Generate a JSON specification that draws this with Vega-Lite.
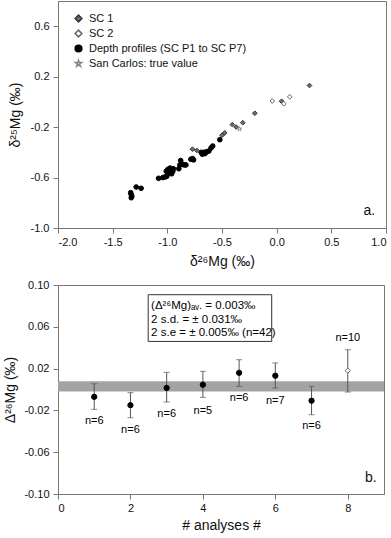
{
  "$schema": "https://vega.github.io/schema/vega-lite/v6.json",
  "padding": {"left": 3, "top": 0, "right": 6, "bottom": 2},
  "spacing": 9,
  "resolve": {
    "scale": {"shape": "independent", "fill": "independent", "stroke": "independent"},
    "legend": {"shape": "independent", "fill": "independent", "stroke": "independent"}
  },
  "config": {
    "font": "Liberation Sans",
    "view": {"stroke": "#777", "strokeWidth": 1},
    "axis": {"grid": false, "labelOverlap": false, "domainColor": "#777", "tickColor": "#777", "tickSize": 5, "labelFont": "Liberation Sans", "labelFontSize": 11, "labelColor": "#111", "titleFont": "Liberation Sans", "titleFontSize": 14, "titleFontWeight": "normal", "titleColor": "#111"}
  },
  "vconcat": [
    {
      "width": 328,
      "height": 227,
      "data": {"values": [
        {"x": -1.335, "y": -0.72, "series": "Depth profiles (SC P1 to SC P7)"},
        {"x": -1.33, "y": -0.735, "series": "Depth profiles (SC P1 to SC P7)"},
        {"x": -1.325, "y": -0.75, "series": "Depth profiles (SC P1 to SC P7)"},
        {"x": -1.33, "y": -0.76, "series": "Depth profiles (SC P1 to SC P7)"},
        {"x": -1.285, "y": -0.675, "series": "Depth profiles (SC P1 to SC P7)"},
        {"x": -1.24, "y": -0.685, "series": "Depth profiles (SC P1 to SC P7)"},
        {"x": -1.08, "y": -0.606, "series": "Depth profiles (SC P1 to SC P7)"},
        {"x": -1.04, "y": -0.60, "series": "Depth profiles (SC P1 to SC P7)"},
        {"x": -1.02, "y": -0.595, "series": "Depth profiles (SC P1 to SC P7)"},
        {"x": -1.005, "y": -0.59, "series": "Depth profiles (SC P1 to SC P7)"},
        {"x": -1.01, "y": -0.55, "series": "Depth profiles (SC P1 to SC P7)"},
        {"x": -0.995, "y": -0.535, "series": "Depth profiles (SC P1 to SC P7)"},
        {"x": -0.985, "y": -0.56, "series": "Depth profiles (SC P1 to SC P7)"},
        {"x": -0.97, "y": -0.545, "series": "Depth profiles (SC P1 to SC P7)"},
        {"x": -0.96, "y": -0.57, "series": "Depth profiles (SC P1 to SC P7)"},
        {"x": -0.95, "y": -0.55, "series": "Depth profiles (SC P1 to SC P7)"},
        {"x": -0.975, "y": -0.525, "series": "Depth profiles (SC P1 to SC P7)"},
        {"x": -0.945, "y": -0.53, "series": "Depth profiles (SC P1 to SC P7)"},
        {"x": -0.99, "y": -0.565, "series": "Depth profiles (SC P1 to SC P7)"},
        {"x": -0.895, "y": -0.53, "series": "Depth profiles (SC P1 to SC P7)"},
        {"x": -0.885, "y": -0.50, "series": "Depth profiles (SC P1 to SC P7)"},
        {"x": -0.878, "y": -0.465, "series": "Depth profiles (SC P1 to SC P7)"},
        {"x": -0.86, "y": -0.495, "series": "Depth profiles (SC P1 to SC P7)"},
        {"x": -0.845, "y": -0.50, "series": "Depth profiles (SC P1 to SC P7)"},
        {"x": -0.83, "y": -0.50, "series": "Depth profiles (SC P1 to SC P7)"},
        {"x": -0.785, "y": -0.455, "series": "Depth profiles (SC P1 to SC P7)"},
        {"x": -0.77, "y": -0.45, "series": "Depth profiles (SC P1 to SC P7)"},
        {"x": -0.76, "y": -0.46, "series": "Depth profiles (SC P1 to SC P7)"},
        {"x": -0.69, "y": -0.40, "series": "Depth profiles (SC P1 to SC P7)"},
        {"x": -0.68, "y": -0.415, "series": "Depth profiles (SC P1 to SC P7)"},
        {"x": -0.665, "y": -0.40, "series": "Depth profiles (SC P1 to SC P7)"},
        {"x": -0.655, "y": -0.41, "series": "Depth profiles (SC P1 to SC P7)"},
        {"x": -0.64, "y": -0.395, "series": "Depth profiles (SC P1 to SC P7)"},
        {"x": -0.62, "y": -0.39, "series": "Depth profiles (SC P1 to SC P7)"},
        {"x": -0.60, "y": -0.365, "series": "Depth profiles (SC P1 to SC P7)"},
        {"x": -0.585, "y": -0.35, "series": "Depth profiles (SC P1 to SC P7)"},
        {"x": -0.52, "y": -0.30, "series": "Depth profiles (SC P1 to SC P7)"},
        {"x": -0.77, "y": -0.375, "series": "SC 1"},
        {"x": -0.73, "y": -0.385, "series": "SC 1"},
        {"x": -0.50, "y": -0.265, "series": "SC 1"},
        {"x": -0.475, "y": -0.245, "series": "SC 1"},
        {"x": -0.405, "y": -0.18, "series": "SC 1"},
        {"x": -0.37, "y": -0.20, "series": "SC 1"},
        {"x": -0.31, "y": -0.165, "series": "SC 1"},
        {"x": -0.20, "y": -0.09, "series": "SC 1"},
        {"x": 0.045, "y": 0.005, "series": "SC 1"},
        {"x": 0.30, "y": 0.13, "series": "SC 1"},
        {"x": -0.04, "y": 0.007, "series": "SC 2"},
        {"x": 0.065, "y": -0.015, "series": "SC 2"},
        {"x": 0.12, "y": 0.04, "series": "SC 2"},
        {"x": -0.34, "y": -0.215, "series": "San Carlos: true value"}
      ]},
      "layer": [
        {
          "mark": {"type": "point", "filled": true, "strokeWidth": 1, "opacity": 1, "size": 22},
          "encoding": {
            "x": {"field": "x", "type": "quantitative", "scale": {"domain": [-2, 1], "nice": false}, "axis": {"values": [-2, -1.5, -1, -0.5, 0, 0.5, 1], "format": ".1f", "labelOverlap": false, "labelExpr": "replace(datum.label, '\u2212', '-')", "title": "δ²⁶Mg (‰)", "titlePadding": 7, "labelPadding": 3}},
            "y": {"field": "y", "type": "quantitative", "scale": {"domain": [-1, 0.8], "nice": false}, "axis": {"values": [-1, -0.8, -0.6, -0.4, -0.2, 0, 0.2, 0.4, 0.6, 0.8], "format": ".1f", "labelOverlap": false, "labelExpr": "replace(datum.label, '\u2212', '-')", "title": "δ²⁵Mg (‰)", "titlePadding": 8, "labelPadding": 4}},
            "shape": {"field": "series", "type": "nominal", "scale": {"domain": ["SC 1", "SC 2", "Depth profiles (SC P1 to SC P7)", "San Carlos: true value"], "range": ["diamond", "diamond", "circle", "M0,-1L0.2245,-0.309L0.951,-0.309L0.363,0.118L0.588,0.809L0,0.382L-0.588,0.809L-0.363,0.118L-0.951,-0.309L-0.2245,-0.309Z"]}, "legend": {"title": null, "orient": "none", "legendX": 15, "legendY": 12, "labelFontSize": 11, "labelFont": "Liberation Sans", "labelColor": "#111", "rowPadding": 2, "labelOffset": 5, "symbolSize": 45}},
            "fill": {"field": "series", "type": "nominal", "scale": {"domain": ["SC 1", "SC 2", "Depth profiles (SC P1 to SC P7)", "San Carlos: true value"], "range": ["#6e6e6e", "#ffffff", "#000000", "#ffffff"]}, "legend": {"title": null, "orient": "none", "legendX": 15, "legendY": 12, "labelFontSize": 11, "labelFont": "Liberation Sans", "labelColor": "#111", "rowPadding": 2, "labelOffset": 5, "symbolSize": 45}},
            "stroke": {"field": "series", "type": "nominal", "scale": {"domain": ["SC 1", "SC 2", "Depth profiles (SC P1 to SC P7)", "San Carlos: true value"], "range": ["#333333", "#666666", "#000000", "#888888"]}, "legend": {"title": null, "orient": "none", "legendX": 15, "legendY": 12, "labelFontSize": 11, "labelFont": "Liberation Sans", "labelColor": "#111", "rowPadding": 2, "labelOffset": 5, "symbolSize": 45}}
          }
        },
        {
          "data": {"values": [{"x": 0.9, "y": -0.865, "label": "a."}]},
          "mark": {"type": "text", "align": "right", "baseline": "middle", "fontSize": 14, "font": "Liberation Sans", "color": "#111"},
          "encoding": {
            "x": {"field": "x", "type": "quantitative"},
            "y": {"field": "y", "type": "quantitative"},
            "text": {"field": "label"}
          }
        }
      ]
    },
    {
      "width": 326,
      "height": 209,
      "layer": [
        {
          "data": {"values": [{"lo": -0.002, "hi": 0.008}]},
          "mark": {"type": "rect", "color": "#a3a3a3"},
          "encoding": {
            "x": {"datum": 0, "type": "quantitative", "scale": {"domain": [0, 9], "nice": false}, "axis": {"values": [0, 2, 4, 6, 8], "labelOverlap": false, "title": "# analyses #", "titlePadding": 5, "labelPadding": 3}},
            "x2": {"datum": 9},
            "y": {"field": "lo", "type": "quantitative", "scale": {"domain": [-0.1, 0.1], "nice": false}, "axis": {"values": [-0.1, -0.08, -0.06, -0.04, -0.02, 0, 0.02, 0.04, 0.06, 0.08, 0.1], "format": ".2f", "labelOverlap": false, "labelExpr": "replace(datum.label, '\u2212', '-')", "title": "Δ²⁶Mg (‰)", "titlePadding": 6, "labelPadding": 4}},
            "y2": {"field": "hi"}
          }
        },
        {
          "data": {"values": [{"bx1": 2.49, "bx2": 5.9, "by1": 0.046, "by2": 0.0907}]},
          "mark": {"type": "rect", "fill": "white", "stroke": "#333", "strokeWidth": 1},
          "encoding": {
            "x": {"field": "bx1", "type": "quantitative"},
            "x2": {"field": "bx2"},
            "y": {"field": "by1", "type": "quantitative"},
            "y2": {"field": "by2"}
          }
        },
        {
          "data": {"values": [
            {"x": 2.57, "y": 0.0795, "t": "(Δ²⁶Mg)ₐᵥ. = 0.003‰"},
            {"x": 2.57, "y": 0.0665, "t": "2 s.d. = ± 0.031‰"},
            {"x": 2.57, "y": 0.0545, "t": "2 s.e = ± 0.005‰ (n=42)"}
          ]},
          "mark": {"type": "text", "align": "left", "baseline": "middle", "fontSize": 11.5, "font": "Liberation Sans", "color": "#000"},
          "encoding": {
            "x": {"field": "x", "type": "quantitative"},
            "y": {"field": "y", "type": "quantitative"},
            "text": {"field": "t"}
          }
        },
        {
          "data": {"values": [
            {"a": 1, "m": -0.007, "lo": -0.019, "hi": 0.0055, "n": "n=6", "ny": -0.030, "kind": "profile"},
            {"a": 2, "m": -0.015, "lo": -0.027, "hi": -0.003, "n": "n=6", "ny": -0.0385, "kind": "profile"},
            {"a": 3, "m": 0.0015, "lo": -0.012, "hi": 0.0164, "n": "n=6", "ny": -0.0234, "kind": "profile"},
            {"a": 4, "m": 0.0046, "lo": -0.0075, "hi": 0.0174, "n": "n=5", "ny": -0.0206, "kind": "profile"},
            {"a": 5, "m": 0.016, "lo": 0.003, "hi": 0.0285, "n": "n=6", "ny": -0.008, "kind": "profile"},
            {"a": 6, "m": 0.0132, "lo": 0.0014, "hi": 0.0254, "n": "n=7", "ny": -0.011, "kind": "profile"},
            {"a": 7, "m": -0.0107, "lo": -0.0241, "hi": 0.0031, "n": "n=6", "ny": -0.0346, "kind": "profile"},
            {"a": 8, "m": 0.018, "lo": -0.0024, "hi": 0.038, "n": "n=10", "ny": 0.049, "kind": "SC 2"}
          ]},
          "layer": [
            {
              "mark": {"type": "rule", "color": "#555", "strokeWidth": 1},
              "encoding": {
                "x": {"field": "a", "type": "quantitative"},
                "y": {"field": "lo", "type": "quantitative"},
                "y2": {"field": "hi"}
              }
            },
            {
              "mark": {"type": "tick", "color": "#555", "orient": "horizontal", "size": 6, "thickness": 1},
              "encoding": {
                "x": {"field": "a", "type": "quantitative"},
                "y": {"field": "lo", "type": "quantitative"}
              }
            },
            {
              "mark": {"type": "tick", "color": "#555", "orient": "horizontal", "size": 6, "thickness": 1},
              "encoding": {
                "x": {"field": "a", "type": "quantitative"},
                "y": {"field": "hi", "type": "quantitative"}
              }
            },
            {
              "mark": {"type": "point", "filled": true, "opacity": 1, "strokeWidth": 1, "size": 28},
              "encoding": {
                "x": {"field": "a", "type": "quantitative"},
                "y": {"field": "m", "type": "quantitative"},
                "shape": {"field": "kind", "type": "nominal", "scale": {"domain": ["profile", "SC 2"], "range": ["circle", "diamond"]}, "legend": null},
                "fill": {"field": "kind", "type": "nominal", "scale": {"domain": ["profile", "SC 2"], "range": ["#000000", "#ffffff"]}, "legend": null},
                "stroke": {"field": "kind", "type": "nominal", "scale": {"domain": ["profile", "SC 2"], "range": ["#000000", "#666666"]}, "legend": null}
              }
            },
            {
              "mark": {"type": "text", "baseline": "middle", "align": "center", "fontSize": 11, "font": "Liberation Sans", "color": "#000", "fill": "#000"},
              "encoding": {
                "x": {"field": "a", "type": "quantitative"},
                "y": {"field": "ny", "type": "quantitative"},
                "text": {"field": "n"}
              }
            }
          ]
        },
        {
          "data": {"values": [{"x": 8.8, "y": -0.085, "label": "b."}]},
          "mark": {"type": "text", "align": "right", "baseline": "middle", "fontSize": 14, "font": "Liberation Sans", "color": "#111"},
          "encoding": {
            "x": {"field": "x", "type": "quantitative"},
            "y": {"field": "y", "type": "quantitative"},
            "text": {"field": "label"}
          }
        }
      ]
    }
  ]
}
